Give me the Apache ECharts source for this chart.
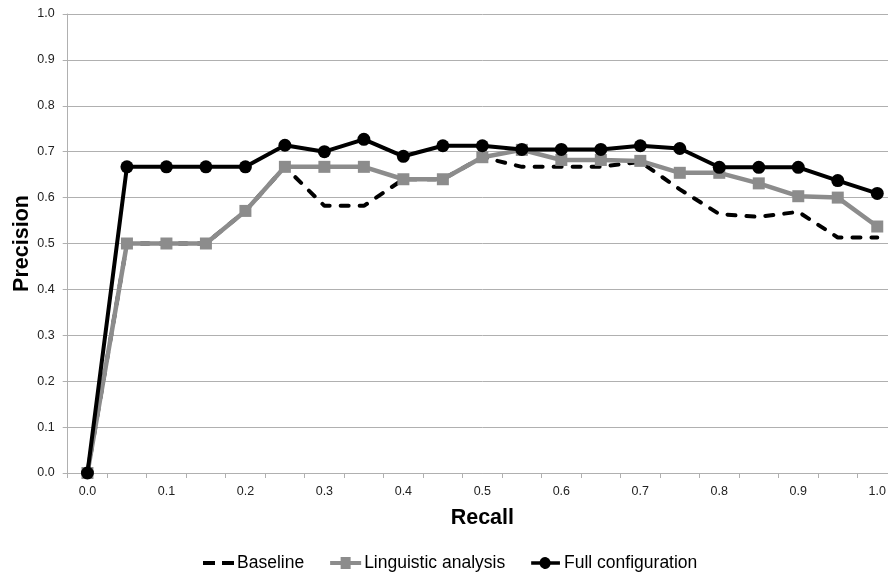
<!DOCTYPE html>
<html>
<head>
<meta charset="utf-8">
<script src="https://cdn.jsdelivr.net/npm/echarts@6/dist/echarts.min.js"></script>
<style>
html,body{margin:0;padding:0;background:#fff;overflow:hidden;width:888px;height:574px;}
#chart{width:897px;height:574px;}
</style>
</head>
<body>
<div id="chart"></div>
<script>
const recall = ['0.0','0.05','0.1','0.15','0.2','0.25','0.3','0.35','0.4','0.45','0.5','0.55','0.6','0.65','0.7','0.75','0.8','0.85','0.9','0.95','1.0'];
const baseline = [0, 0.5, 0.5, 0.5, 0.571, 0.667, 0.582, 0.582, 0.64, 0.64, 0.688, 0.667, 0.667, 0.667, 0.678, 0.618, 0.564, 0.558, 0.569, 0.513, 0.513];
const linguistic = [0, 0.5, 0.5, 0.5, 0.571, 0.667, 0.667, 0.667, 0.64, 0.64, 0.688, 0.704, 0.682, 0.682, 0.68, 0.654, 0.654, 0.631, 0.603, 0.6, 0.537];
const fullConfig = [0, 0.667, 0.667, 0.667, 0.667, 0.714, 0.7, 0.727, 0.69, 0.713, 0.713, 0.705, 0.705, 0.705, 0.713, 0.707, 0.666, 0.666, 0.666, 0.637, 0.609];
const seriesNames = ['Baseline', 'Linguistic analysis', 'Full configuration'];
const yTicks = [0, 0.1, 0.2, 0.3, 0.4, 0.5, 0.6, 0.7, 0.8, 0.9, 1.0];

const FONT = 'Liberation Sans, Arial, sans-serif';
const ICON_DASH = 'path://M0,4h12v4h-12z M19,4h12v4h-12z';
const ICON_SQUARE = 'path://M0,4h10.5v-4h10v4h10.5v4h-10.5v4h-10v-4h-10.5z';
const ICON_CIRCLE = 'path://M0,4h9.2a6,6 0 0,1 11.6,0h10.2v4h-10.2a6,6 0 0,1 -11.6,0h-9.2z';

const chart = echarts.init(document.getElementById('chart'), null, {renderer: 'canvas', width: 897, height: 574});
chart.setOption({
  animation: false,
  backgroundColor: '#ffffff',
  grid: {left: 67.7, top: 14, bottom: 101, right: 0, containLabel: false, outerBoundsMode: 'none'},
  legend: {
    left: 203, top: 554, padding: 0,
    itemWidth: 31, itemHeight: 12, itemGap: 26,
    textStyle: {fontFamily: FONT, fontSize: 17.5, color: '#000', padding: [0, 0, 0, -2]},
    data: [
      {name: seriesNames[0], icon: ICON_DASH},
      {name: seriesNames[1], icon: ICON_SQUARE},
      {name: seriesNames[2], icon: ICON_CIRCLE}
    ]
  },
  xAxis: {
    type: 'category',
    data: recall,
    boundaryGap: true,
    name: 'Recall',
    nameLocation: 'middle',
    nameGap: 34,
    nameMoveOverlap: false,
    nameTextStyle: {fontFamily: FONT, fontSize: 21.5, fontWeight: 'bold', color: '#000'},
    axisLine: {lineStyle: {color: '#b0b0b0', width: 1}},
    axisTick: {show: true, interval: 0, length: 5, lineStyle: {color: '#b0b0b0'}},
    axisLabel: {interval: 1, margin: 12.5, fontFamily: FONT, fontSize: 12.5, color: '#222'},
    splitLine: {show: false}
  },
  yAxis: {
    type: 'value',
    min: yTicks[0], max: yTicks[yTicks.length - 1], interval: 0.1,
    name: 'Precision',
    nameLocation: 'middle',
    nameGap: 35,
    nameMoveOverlap: false,
    nameTextStyle: {fontFamily: FONT, fontSize: 21.5, fontWeight: 'bold', color: '#000'},
    axisLine: {show: true, lineStyle: {color: '#b0b0b0', width: 1}},
    axisTick: {show: true, length: 5, lineStyle: {color: '#b0b0b0'}},
    axisLabel: {margin: 13, fontFamily: FONT, fontSize: 12.5, color: '#222', formatter: v => v.toFixed(1)},
    splitLine: {show: true, lineStyle: {color: '#b0b0b0', width: 1}}
  },
  series: [
    {
      name: seriesNames[0], type: 'line', data: baseline,
      symbol: 'none', showSymbol: false,
      lineStyle: {color: '#000', width: 4, type: [8, 11], cap: 'round'},
      itemStyle: {color: '#000'}, z: 2
    },
    {
      name: seriesNames[1], type: 'line', data: linguistic,
      symbol: 'rect', symbolSize: 12,
      lineStyle: {color: '#8c8c8c', width: 4.5},
      itemStyle: {color: '#8c8c8c'}, z: 3
    },
    {
      name: seriesNames[2], type: 'line', data: fullConfig,
      symbol: 'circle', symbolSize: 13,
      lineStyle: {color: '#000', width: 4},
      itemStyle: {color: '#000'}, z: 4
    }
  ]
});
</script>
</body>
</html>
